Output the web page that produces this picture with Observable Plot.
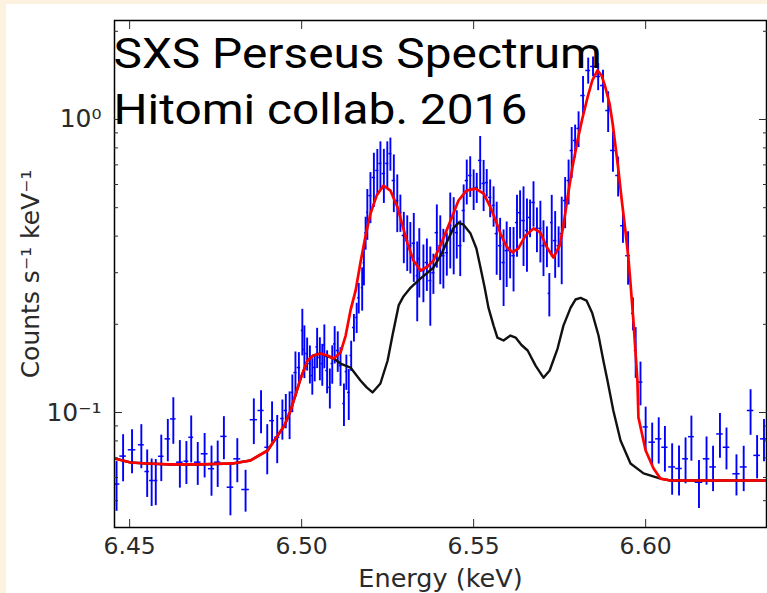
<!DOCTYPE html>
<html><head><meta charset="utf-8">
<script src="https://cdn.jsdelivr.net/npm/d3@7"></script>
<script src="https://cdn.jsdelivr.net/npm/@observablehq/plot@0.6"></script>
<style>
html,body{margin:0;padding:0;background:#fdf1df;width:767px;height:593px;overflow:hidden;}
#wrap{position:absolute;left:6px;top:4px;width:761px;height:589px;background:#fff;}
</style></head><body><div id="wrap"></div>
<script>
// Observed spectrum (blue): energy (keV), counts s^-1 keV^-1, 1-sigma error
const dataE = [6.4462,6.4481,6.4507,6.4534,6.4551,6.4564,6.4576,6.4592,6.4611,6.4627,6.4646,6.4665,6.4679,6.4698,6.4718,6.4738,6.4756,6.4774,6.4793,6.4813,6.4837,6.4861,6.4882,6.4900,6.4914,6.4929,
6.4944,6.4954,6.4965,6.4973,6.4982,6.4992,6.5002,6.5008,6.5016,6.5024,6.5031,6.5038,6.5045,6.5053,6.5060,6.5066,6.5074,6.5082,6.5089,6.5096,6.5105,6.5113,6.5123,6.5130,6.5137,6.5144,6.5152,6.5160,6.5166,6.5176,
6.5181,6.5186,6.5191,6.5200,6.5210,6.5220,6.5229,6.5239,6.5249,6.5258,6.5268,6.5278,6.5287,6.5297,6.5307,6.5316,6.5326,6.5336,
6.5342,6.5354,6.5364,6.5374,6.5383,6.5393,6.5403,6.5412,6.5422,6.5432,6.5442,6.5451,6.5461,6.5471,6.5480,6.5490,6.5500,6.5509,6.5519,6.5529,6.5538,6.5548,6.5558,6.5567,6.5577,6.5587,6.5596,6.5606,6.5616,6.5626,6.5635,6.5645,6.5655,6.5664,6.5674,6.5684,6.5694,6.5703,6.5713,6.5720,6.5727,6.5737,6.5747,6.5756,6.5766,6.5776,6.5785,6.5795,6.5805,
6.5818,6.5833,6.5847,6.5862,6.5876,6.5891,6.5905,6.5920,6.5934,6.5949,6.5963,6.5971,
6.5985,6.6000,6.6019,6.6038,6.6056,6.6077,6.6097,6.6116,6.6133,6.6155,6.6177,6.6196,6.6216,6.6235,6.6264,6.6285,6.6305,6.6324,6.6344];
const dataY = [0.057,0.071,0.0746,0.0776,0.0629,0.0586,0.0586,0.0709,0.0813,0.0951,0.0677,0.0682,0.0823,0.0677,0.0723,0.0643,0.0677,0.0829,0.0556,0.0695,0.0546,0.0945,0.1016,0.0761,0.0938,0.0823,
0.0954,0.1016,0.0992,0.1171,0.1369,0.1424,0.1905,0.164,0.159,0.1469,0.1336,0.1424,0.1675,0.1541,0.1469,0.170,0.1391,0.1218,0.1469,0.1714,0.1628,0.1446,0.1073,0.138,0.1171,0.1566,0.195,0.211,0.2464,0.2668,
0.3245,0.411,0.482,0.550,0.634,0.670,0.708,0.654,0.708,0.765,0.619,0.529,0.482,0.402,0.386,0.371,0.378,0.293,
0.335,0.305,0.325,0.282,0.300,0.411,0.371,0.343,0.351,0.435,0.418,0.411,0.371,0.489,0.619,0.644,0.581,0.586,0.725,0.605,0.609,0.542,0.509,0.408,0.371,0.325,0.357,0.357,0.343,0.445,0.481,0.452,0.418,0.463,0.521,0.425,0.425,0.371,0.371,0.255,0.445,0.386,0.371,0.408,0.529,0.619,0.784,0.848,0.932,
1.207,1.470,1.517,1.402,1.306,1.073,0.784,0.644,0.434,0.343,0.218,0.1628,
0.127,0.0893,0.0792,0.0813,0.0761,0.0652,0.0644,0.0695,0.0827,0.0578,0.0695,0.0652,0.0845,0.0761,0.0618,0.0652,0.1016,0.0714,0.0813];
const dataErr = [0.011,0.013,0.0128,0.0133,0.0116,0.0108,0.0105,0.0128,0.0134,0.0172,0.0125,0.0114,0.015,0.0113,0.0125,0.0125,0.0122,0.0139,0.0112,0.0119,0.0089,0.0168,0.017,0.0148,0.0149,0.0154,
0.0149,0.0136,0.0184,0.0172,0.024,0.0177,0.0345,0.0335,0.0205,0.0218,0.019,0.0152,0.0263,0.0258,0.024,0.029,0.0233,0.019,0.022,0.025,0.0257,0.0218,0.0177,0.019,0.0232,0.0185,0.021,0.025,0.0295,0.045,
0.054,0.053,0.095,0.109,0.133,0.12,0.131,0.137,0.131,0.099,0.138,0.118,0.07,0.08,0.083,0.074,0.10,0.089,
0.089,0.068,0.066,0.085,0.047,0.10,0.098,0.079,0.059,0.126,0.123,0.077,0.08,0.109,0.108,0.102,0.092,0.069,0.15,0.12,0.066,0.08,0.08,0.114,0.089,0.095,0.09,0.071,0.085,0.106,0.09,0.137,0.117,0.068,0.092,0.074,0.101,0.08,0.059,0.043,0.106,0.099,0.059,0.135,0.105,0.108,0.155,0.109,0.13,
0.194,0.15,0.118,0.148,0.168,0.17,0.124,0.10,0.056,0.071,0.028,0.032,
0.0216,0.015,0.0128,0.0146,0.0135,0.013,0.0125,0.0124,0.0145,0.0108,0.013,0.0115,0.0147,0.0124,0.0099,0.0115,0.018,0.012,0.0134];

// Total model (red)
const redE = [6.4456,6.4503,6.4549,6.4619,6.4700,6.4799,6.4851,6.4901,6.4950,6.4968,6.4997,6.5017,6.5034,6.5055,6.5075,6.5093,6.5113,6.5128,6.5142,6.5157,6.5171,6.5186,6.5200,6.5218,6.5238,6.5258,6.5279,6.5293,6.5308,6.5325,6.5346,6.5366,6.5383,6.5407,6.5433,6.5456,6.5479,6.5505,6.5529,6.5549,6.5564,6.5578,6.5596,6.5613,6.5630,6.5651,6.5674,6.5694,6.5712,6.5732,6.5750,6.5761,6.5773,6.5787,6.5802,6.5816,6.5831,6.5845,6.5860,6.5872,6.5883,6.5895,6.5904,6.5912,6.5921,6.5930,6.5941,6.5950,6.5956,6.5965,6.5976,6.5979,6.6000,6.6023,6.6043,6.6072,6.6351];
const redY = [0.0697,0.0675,0.0670,0.0665,0.0665,0.0670,0.0686,0.0742,0.0903,0.1016,0.1306,0.1505,0.1566,0.1590,0.1566,0.1529,0.1602,0.1831,0.223,0.261,0.325,0.402,0.477,0.550,0.595,0.572,0.501,0.435,0.377,0.330,0.305,0.315,0.330,0.380,0.452,0.529,0.572,0.581,0.559,0.501,0.452,0.408,0.368,0.352,0.363,0.402,0.425,0.411,0.368,0.338,0.371,0.435,0.542,0.686,0.848,1.008,1.189,1.359,1.470,1.413,1.286,1.134,0.969,0.815,0.670,0.537,0.418,0.335,0.276,0.201,0.1286,0.0961,0.0742,0.0644,0.0595,0.0586,0.0586];

// Model component (black)
const blackE = [6.4456,6.4503,6.4549,6.4619,6.4700,6.4799,6.4851,6.4901,6.4950,6.4968,6.4997,6.5017,6.5034,6.5055,6.5075,6.5093,6.5113,6.5142,6.5171,6.5189,6.5206,6.5229,6.5250,6.5264,6.5282,6.5296,6.5317,6.5346,6.5383,6.5404,6.5424,6.5441,6.5456,6.5470,6.5491,6.5508,6.5520,6.5532,6.5543,6.5558,6.5569,6.5587,6.5607,6.5622,6.5639,6.5657,6.5680,6.5703,6.5721,6.5744,6.5761,6.5782,6.5796,6.5811,6.5828,6.5845,6.5863,6.5877,6.5889,6.5906,6.5927,6.5956,6.5994,6.6043,6.6072,6.6351];
const blackY = [0.0697,0.0675,0.0670,0.0665,0.0665,0.0670,0.0686,0.0742,0.0903,0.1016,0.1306,0.1505,0.1566,0.1590,0.1554,0.1529,0.1469,0.1424,0.1286,0.1218,0.1171,0.1256,0.1505,0.1831,0.232,0.249,0.267,0.287,0.312,0.343,0.386,0.425,0.445,0.438,0.408,0.363,0.312,0.267,0.228,0.198,0.1802,0.1761,0.1831,0.1802,0.1700,0.1628,0.1446,0.1315,0.1391,0.1653,0.198,0.228,0.243,0.246,0.241,0.218,0.1831,0.1505,0.1286,0.1016,0.0802,0.0670,0.0620,0.0595,0.0586,0.0586];

const xTicks = [6.45, 6.50, 6.55, 6.60];
const xTickLabels = ["6.45", "6.50", "6.55", "6.60"];
const yMajor = [0.1, 1];
const yTickLabels = ["10⁻¹", "10⁰"];
const yMinor = [0.05, 0.06, 0.07, 0.08, 0.09, 0.2, 0.3, 0.4, 0.5, 0.6, 0.7, 0.8, 0.9, 2];
const xLabel = "Energy (keV)";
const yLabel = "Counts s⁻¹ keV⁻¹";
const titleText = "SXS Perseus Spectrum\nHitomi collab. 2016";

const rows = dataE.map((e, i) => {
  const prev = i > 0 ? e - dataE[i - 1] : Infinity;
  const next = i < dataE.length - 1 ? dataE[i + 1] - e : Infinity;
  const w = Math.min(Math.min(prev, next) / 2, 0.0011);
  return {E: e, y: dataY[i], err: dataErr[i], w};
});
const redRows = redE.map((e, i) => ({E: e, v: redY[i]}));
const blackRows = blackE.map((e, i) => ({E: e, v: blackY[i]}));

const blue = "#0000ff";
const labelColor = "#2a2a2a";
const chart = Plot.plot({
  width: 761, height: 589,
  marginLeft: 108, marginRight: 1, marginTop: 16, marginBottom: 66,
  style: {background: "white", fontFamily: "DejaVu Sans", color: labelColor, overflow: "visible"},
  x: {domain: [6.4456, 6.63513]},
  y: {type: "log", domain: [0.04051, 2.177]},
  marks: [
    Plot.ruleX(rows, {x: "E", y1: d => d.y - d.err, y2: d => d.y + d.err, stroke: blue, strokeWidth: 1.9, clip: true}),
    Plot.ruleY(rows, {y: "y", x1: d => d.E - d.w, x2: d => d.E + d.w, stroke: blue, strokeWidth: 1.5, clip: true}),
    Plot.line(blackRows, {x: "E", y: "v", stroke: "#111", strokeWidth: 2.4, clip: true}),
    Plot.line(redRows, {x: "E", y: "v", stroke: "#ff0000", strokeWidth: 2.7, clip: true}),
    Plot.frame({stroke: "black", strokeWidth: 1.5}),
    Plot.axisX(xTicks, {anchor: "bottom", tickSize: -8, tickFormat: () => "", label: null}),
    Plot.axisX(xTicks, {anchor: "top", tickSize: -8, tickFormat: () => "", label: null}),
    Plot.axisX(xTicks, {anchor: "bottom", tickSize: 0, tickPadding: 10, fontSize: 23.5, tickFormat: d => xTickLabels[xTicks.indexOf(d)], label: null}),
    Plot.axisY(yMajor, {anchor: "left", tickSize: -8, tickFormat: () => "", label: null}),
    Plot.axisY(yMinor, {anchor: "left", tickSize: -4, tickFormat: () => "", label: null}),
    Plot.axisY(yMajor, {anchor: "right", tickSize: -8, tickFormat: () => "", label: null}),
    Plot.axisY(yMinor, {anchor: "right", tickSize: -4, tickFormat: () => "", label: null}),
    Plot.axisY(yMajor, {anchor: "left", tickSize: 0, tickPadding: 13, fontSize: 25, tickFormat: d => yTickLabels[yMajor.indexOf(d)], label: null}),
    Plot.text([xLabel], {frameAnchor: "bottom", dy: 51, fontSize: 25.5, fill: labelColor, lineAnchor: "middle"}),
    Plot.text([yLabel], {frameAnchor: "left", dx: -84, rotate: -90, fontSize: 25, fill: labelColor, textAnchor: "middle", lineAnchor: "middle"}),
    Plot.text([titleText], {frameAnchor: "top-left", dx: -1, dy: 8, fontSize: 42.5, fontFamily: "Roboto", lineHeight: 1.318, textAnchor: "start", lineAnchor: "top", fill: "black"})
  ]
});
document.getElementById("wrap").appendChild(chart);
// stretch the title horizontally to match the reference lettering
chart.querySelectorAll("text").forEach(t => {
  if (t.textContent.startsWith("SXS")) {
    const tr = t.getAttribute("transform") || "";
    t.setAttribute("transform", tr + " scale(1.125,1)");
  }
});
</script></body></html>
